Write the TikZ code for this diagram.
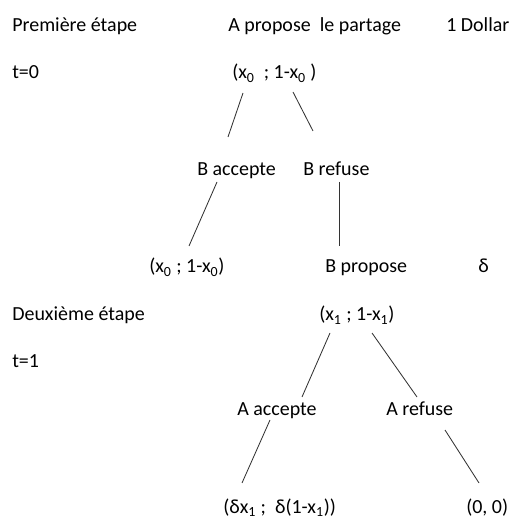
\documentclass[tikz,border=0pt]{standalone}
\usepackage{fontspec}
\setmainfont{Carlito}
\usepackage{tikz}
\usetikzlibrary{calc}

\begin{document}
\begin{tikzpicture}[
  x=0.025cm,y=0.025cm,
  every node/.style={font=\fontsize{14.2}{17}\selectfont,inner sep=0pt,anchor=base west},
  branch/.style={draw=black!80,line width=0.6pt}
]
  \useasboundingbox (0,0) rectangle (512,518);

  % en-tete
  \node (etape1) at (12,486) {Première étape};
  \node (propA)  at (228,486) {A propose\ \ le partage};
  \node (dollar) at (446,486) {1 Dollar};

  % t=0
  \node (t0)   at (12,439) {t=0};
  \node (off0) at (232,439) {(x\textsubscript{0}\ \ ; 1-x\textsubscript{0} )};

  % reponse de B
  \node (bacc) at (197,342) {B accepte};
  \node (bref) at (303,342) {B refuse};

  \draw[branch] ($(off0.base west)+(11,-14)$) -- ($(bacc.base west)+(31,39)$);
  \draw[branch] ($(off0.base west)+(61,-13)$) -- ($(bref.base west)+(10,45)$);

  % issue
  \node (pay0)  at (149,245) {(x\textsubscript{0} ; 1-x\textsubscript{0})};
  \node (bprop) at (325,245) {B propose};
  \node (delta) at (478,245) {δ};

  \draw[branch] ($(bacc.base west)+(20,-6)$) -- ($(pay0.base west)+(40,27)$);
  \draw[branch] ($(bref.base west)+(36,-6)$) -- ($(bprop.base west)+(14,27)$);

  % deuxieme etape
  \node (etape2) at (12,197) {Deuxième étape};
  \node (off1)   at (319,197) {(x\textsubscript{1} ; 1-x\textsubscript{1})};
  \node (t1)     at (12,150) {t=1};

  % reponse de A
  \node (aacc) at (237,102) {A accepte};
  \node (aref) at (386,102) {A refuse};

  \draw[branch] ($(off1.base west)+(11,-12)$) -- ($(aacc.base west)+(65,19)$);
  \draw[branch] ($(off1.base west)+(53,-12)$) -- ($(aref.base west)+(31,19)$);

  % gains
  \node (pay1) at (223,5) {(δx\textsubscript{1}\ ; \ δ(1-x\textsubscript{1}))};
  \node (pay2) at (466,5) {(0, 0)};

  \draw[branch] ($(aacc.base west)+(33,-4)$) -- ($(pay1.base west)+(19,30)$);
  \draw[branch] ($(aref.base west)+(59,-14)$) -- ($(pay2.base west)+(13,30)$);
\end{tikzpicture}
\end{document}
